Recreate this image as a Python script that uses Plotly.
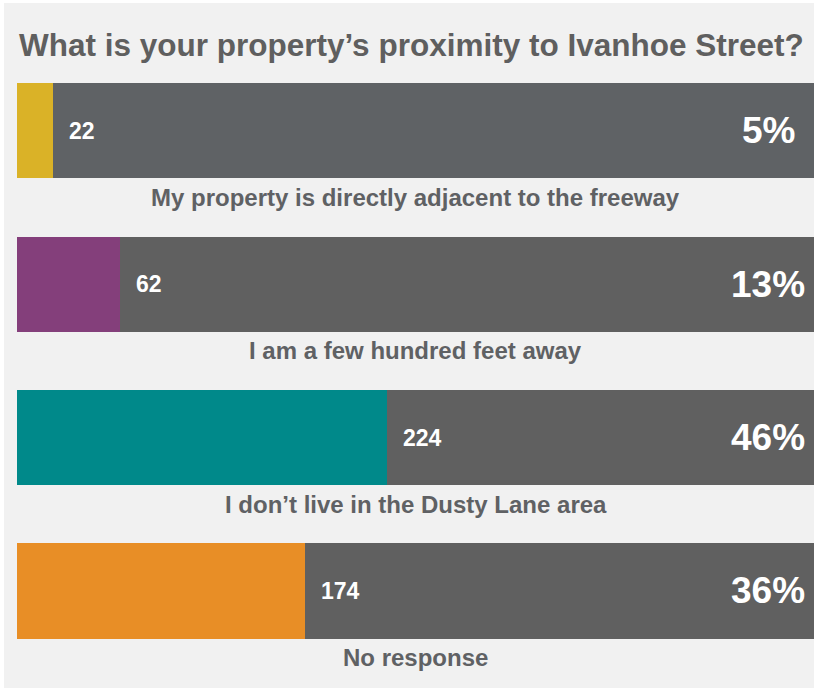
import plotly.graph_objects as go

categories = ["My property is directly adjacent to the freeway",
              "I am a few hundred feet away",
              "I don\u2019t live in the Dusty Lane area",
              "No response"]
counts = [22, 62, 224, 174]
percent_labels = ["5%", "13%", "46%", "36%"]
bar_colors = ["#dab227", "#843f7b", "#00898a", "#e88e26"]
rest_colors = ["#5f6265", "#606060", "#606060", "#606060"]

total = sum(counts)
ypos = list(range(len(categories)))
rest = [total - c for c in counts]

W, H = 814, 689
L, R, T, B = 17, 0, 54, 6
FONT = "Liberation Sans, Arial"

fig = go.Figure()
fig.add_trace(go.Bar(y=ypos, x=counts, orientation="h", marker=dict(color=bar_colors, line=dict(width=0)),
                     width=0.62, hoverinfo="skip"))
fig.add_trace(go.Bar(y=ypos, x=rest, orientation="h", marker=dict(color=rest_colors, line=dict(width=0)),
                     width=0.62, hoverinfo="skip"))

pw = W - L - R
ph = H - T - B

ann = []
for i, (c, p, cat) in enumerate(zip(counts, percent_labels, categories)):
    ann.append(dict(x=c, y=i, text=f"<b>{c}</b>", xanchor="left", xshift=14, showarrow=False,
                    font=dict(family=FONT, size=23, color="white")))
    ann.append(dict(x=total * (768 - L) / pw, y=i, text=f"<b>{p}</b>", xanchor="center",
                    showarrow=False, font=dict(family=FONT, size=37, color="white")))
    ann.append(dict(x=total / 2, y=i + 0.435, text=f"<b>{cat}</b>", xanchor="center", yanchor="middle",
                    showarrow=False, font=dict(family=FONT, size=24, color="#5f6164")))

fig.update_layout(
    barmode="stack",
    width=W, height=H,
    margin=dict(l=L, r=R, t=T, b=B, pad=0),
    paper_bgcolor="white",
    plot_bgcolor="rgba(0,0,0,0)",
    showlegend=False,
    bargap=0,
    xaxis=dict(range=[0, total], visible=False, fixedrange=True),
    yaxis=dict(range=[3.6, -0.5], visible=False, fixedrange=True),
    title=dict(text="<b>What is your property\u2019s proximity to Ivanhoe Street?</b>",
               xref="container", yref="container", x=19 / W, xanchor="left",
               y=1 - 45 / H, yanchor="middle",
               font=dict(family=FONT, size=31.5, color="#5f5f5f")),
    annotations=ann,
    shapes=[dict(type="rect", xref="paper", yref="paper", layer="below",
                 x0=(4 - L) / pw, x1=1.02, y0=(T + ph - 688) / ph, y1=(T + ph - 3) / ph,
                 fillcolor="#f1f1f1", line=dict(width=0))],
)
fig.write_html("out.html", config={"displayModeBar": False},
               post_script="document.body.style.margin='0';document.body.style.overflow='hidden';")
